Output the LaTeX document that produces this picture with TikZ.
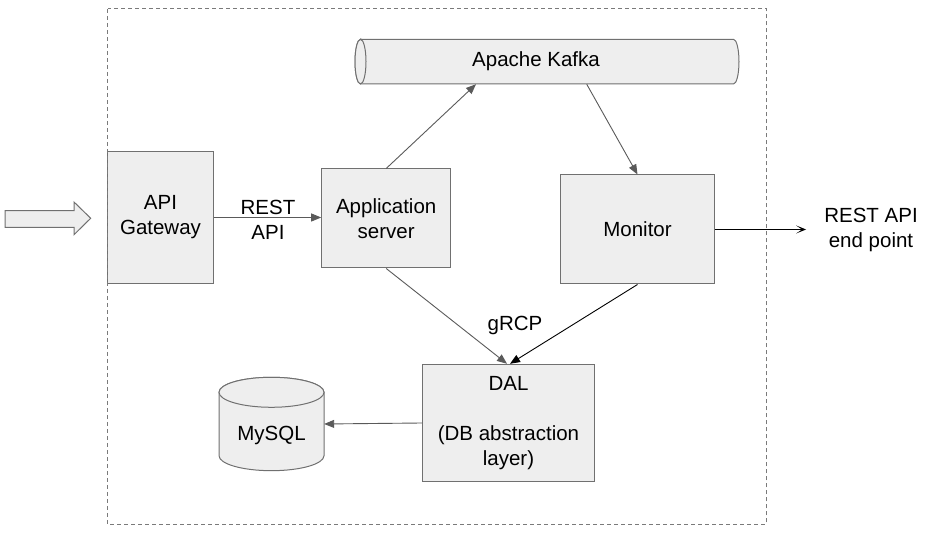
\documentclass[tikz,border=0pt]{standalone}
\usepackage{fontspec}
\setmainfont{Liberation Sans}
\usetikzlibrary{arrows.meta,calc}
\definecolor{boxfill}{HTML}{EEEEEE}
\definecolor{boxline}{HTML}{707070}
\definecolor{arrgray}{HTML}{5A5A5A}
\definecolor{framegray}{HTML}{7A7A7A}
\tikzset{
  box/.style={draw=boxline, fill=boxfill, line width=1pt, align=center, inner sep=0pt},
  plain/.style={align=center, inner sep=0pt},
  conn/.style={draw=arrgray, line width=0.9pt, -{Triangle[length=10pt,width=8pt]}},
  connk/.style={draw=black, line width=0.9pt, -{Triangle[length=10pt,width=8pt]}},
  connout/.style={draw=black, line width=0.9pt, -{Stealth[length=10pt,width=8pt,inset=6pt]}},
  frame/.style={draw=framegray, line width=1pt, dash pattern=on 4pt off 3pt},
}
\begin{document}
\begin{tikzpicture}[x=1pt,y=1pt,font=\fontsize{20.5}{25}\selectfont]
\useasboundingbox (0,0) rectangle (929,537);
% hollow input arrow
\draw[box] (5,326.3) -- (74,326.3) -- (74,335) -- (90.7,318.7) -- (74,302.3) -- (74,309.7) -- (5,309.7) -- cycle;
% boxes
\node[box, minimum width=105.6, minimum height=131.6] (gw) at (160.5,319.5) {API\\Gateway};
\node[box, minimum width=129, minimum height=99] (app) at (386.2,318.5) {Application\\server};
\node[box, minimum width=153.6, minimum height=109] (mon) at (637.5,307.5) {Monitor};
\node[box, minimum width=171.6, minimum height=117.4] (dal) at (508.5,114) {DAL\\\strut\\(DB abstraction\\layer)};
% Kafka cylinder (horizontal)
\path[box] (360.5,497.7) -- (733.5,497.7) arc[start angle=90,end angle=-90,x radius=5.5,y radius=22.35]
  -- (360.5,453) arc[start angle=270,end angle=90,x radius=5.5,y radius=22.35] -- cycle;
\draw[box] (360.5,475.35) ellipse[x radius=5.5,y radius=22.35];
\node[plain, minimum width=384, minimum height=44.7] (kafka) at (547,475.35) {\hspace*{-22pt}Apache Kafka};
% MySQL cylinder (vertical)
\path[box] (219,144.7) -- (219,81.3) arc[start angle=180,end angle=360,x radius=52.5,y radius=15]
  -- (324,144.7) arc[start angle=0,end angle=180,x radius=52.5,y radius=15] -- cycle;
\draw[box] (271.5,144.7) ellipse[x radius=52.5,y radius=15];
\node[plain, minimum width=105, minimum height=93.4, text height=34pt, text depth=0pt] (mysql) at (271.5,113) {MySQL};
% labels
\node[plain] (restlbl) at (268,317.5) {REST\\API};
\node[plain] (grcp) at (515,211.3) {gRCP};
\node[plain, inner xsep=18pt] (endp) at (871,307.5) {REST API\\end point};
% connectors
\draw[conn] (gw.east) -- (app.west |- gw.east);
\draw[conn] (app.north) -- ([xshift=-71pt]kafka.south);
\draw[conn] ([xshift=39.7pt]kafka.south) -- (mon.north);
\draw[conn] (app.south) -- ([xshift=-1.5pt]dal.north);
\draw[connk] (mon.south) -- ([xshift=1.5pt]dal.north);
\draw[conn] (dal.west) -- (mysql.east);
\draw[connout] (mon.east) -- (endp.west |- mon.east);
% dashed frame
\draw[frame] (107.5,528) rectangle (766,12.5);
\end{tikzpicture}
\end{document}
